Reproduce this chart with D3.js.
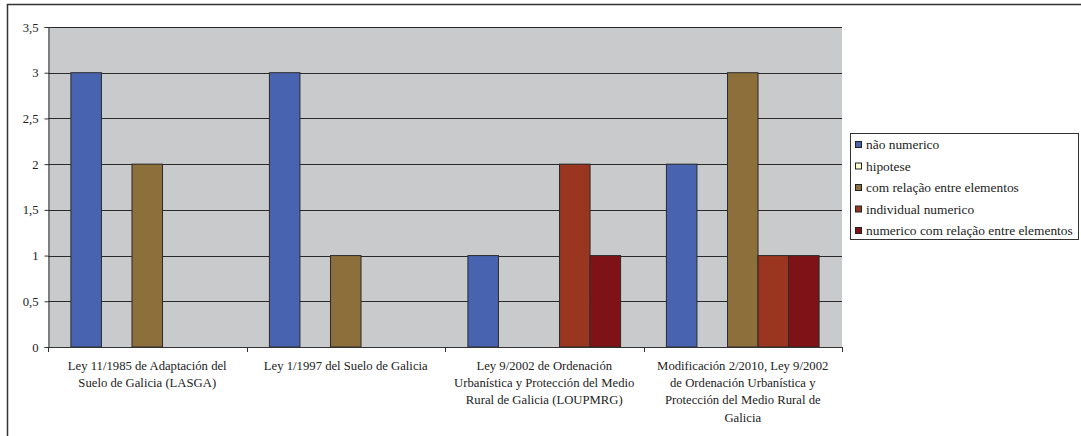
<!DOCTYPE html>
<html>
<head>
<meta charset="utf-8">
<script src="https://cdn.jsdelivr.net/npm/d3@7"></script>
<style>
  html, body { margin: 0; padding: 0; background: #fff; }
</style>
</head>
<body>
<svg id="chart" width="1081" height="436" font-family="Liberation Serif"></svg>
<script>
// Categories (laws), series names and values
const categories = [
  ["Ley 11/1985 de Adaptación del", "Suelo de Galicia (LASGA)"],
  ["Ley 1/1997 del Suelo de Galicia"],
  ["Ley 9/2002 de Ordenación", "Urbanística y Protección del Medio", "Rural de Galicia (LOUPMRG)"],
  ["Modificación 2/2010, Ley 9/2002", "de Ordenación Urbanística y", "Protección del Medio Rural de", "Galicia"]
];
const seriesNames = [
  "não numerico",
  "hipotese",
  "com relação entre elementos",
  "individual numerico",
  "numerico com relação entre elementos"
];
const naoNumerico = [3, 3, 1, 2];
const hipotese = [0, 0, 0, 0];
const comRelacao = [2, 1, 0, 3];
const individualNumerico = [0, 0, 2, 1];
const numericoComRelacao = [0, 0, 1, 1];
const seriesValues = [naoNumerico, hipotese, comRelacao, individualNumerico, numericoComRelacao];
const seriesColors = ["#4864b0", "#ffffcc", "#8c6f3a", "#9a3520", "#7e1216"];
const yTicks = [0, 0.5, 1, 1.5, 2, 2.5, 3, 3.5];

const FONT = "Liberation Serif";
const FS = 12.7;
const LEGEND_FS = 13.4;

const svg = d3.select("#chart");

// outer frame
svg.append("rect").attr("x", 7.5).attr("y", 4.5).attr("width", 1090).attr("height", 450)
  .attr("fill", "none").attr("stroke", "#333").attr("stroke-width", 1.5);

const plot = { left: 48, right: 842, top: 27, bottom: 347 };

const x0 = d3.scaleBand().domain(d3.range(categories.length))
  .range([plot.left, plot.right]).paddingInner(0).paddingOuter(0);
const groupW = x0.bandwidth();
// bars fill the group with a 150% gap between clusters
const barW = groupW / (seriesNames.length + 1.5);
const y = d3.scaleLinear().domain([0, 3.5]).range([plot.bottom, plot.top]);

// plot background
svg.append("rect").attr("x", plot.left).attr("y", plot.top)
  .attr("width", plot.right - plot.left).attr("height", plot.bottom - plot.top)
  .attr("fill", "#c9cacc");

// gridlines
svg.append("g").selectAll("line").data(yTicks.filter(d => d > 0)).join("line")
  .attr("x1", plot.left).attr("x2", plot.right)
  .attr("y1", d => Math.round(y(d)) + 0.5).attr("y2", d => Math.round(y(d)) + 0.5)
  .attr("stroke", "#2a2a2a").attr("stroke-width", 1);

// bars
const bars = [];
categories.forEach((c, ci) => {
  seriesValues.forEach((vals, si) => {
    if (vals[ci] > 0) bars.push({ ci, si, v: vals[ci] });
  });
});
svg.append("g").selectAll("rect").data(bars).join("rect")
  .attr("x", d => x0(d.ci) + barW * 0.75 + d.si * barW)
  .attr("y", d => y(d.v))
  .attr("width", barW)
  .attr("height", d => y(0) - y(d.v))
  .attr("fill", d => seriesColors[d.si])
  .attr("stroke", "#2b2b2b").attr("stroke-width", 1);

// y axis
const yAxis = d3.axisLeft(y).tickValues(yTicks).tickSize(4).tickPadding(6)
  .tickFormat(d => String(d).replace(".", ","));
const gy = svg.append("g").attr("transform", `translate(${plot.left + 0.5},0)`).call(yAxis)
  .attr("font-family", FONT).attr("font-size", FS);
gy.selectAll("path, line").attr("stroke", "#333");
gy.selectAll("text").attr("fill", "#222");

// x axis line + ticks at category boundaries
svg.append("line").attr("x1", plot.left).attr("x2", plot.right)
  .attr("y1", plot.bottom + 0.5).attr("y2", plot.bottom + 0.5).attr("stroke", "#333");
const bounds = d3.range(categories.length + 1).map(i => plot.left + i * groupW);
svg.append("g").selectAll("line").data(bounds).join("line")
  .attr("x1", d => Math.round(d) + 0.5).attr("x2", d => Math.round(d) + 0.5)
  .attr("y1", plot.bottom).attr("y2", plot.bottom + 5).attr("stroke", "#333");

// category labels
const cl = svg.append("g").attr("font-family", FONT).attr("font-size", FS)
  .selectAll("text").data(categories).join("text")
  .attr("text-anchor", "middle").attr("fill", "#222");
cl.each(function (lines, i) {
  const t = d3.select(this);
  lines.forEach((ln, li) => {
    t.append("tspan").attr("x", x0(i) + groupW / 2).attr("y", 369.5 + li * 17.4).text(ln);
  });
});

// legend
const lg = svg.append("g").attr("font-family", FONT).attr("font-size", LEGEND_FS);
lg.append("rect").attr("x", 850.5).attr("y", 133.5).attr("width", 228).attr("height", 106)
  .attr("fill", "#fff").attr("stroke", "#333");
const items = lg.selectAll("g").data(seriesNames).join("g")
  .attr("transform", (d, i) => `translate(855, ${145 + i * 21.5})`);
items.append("rect").attr("x", 0.5).attr("y", -3.5).attr("width", 6).attr("height", 6)
  .attr("fill", (d, i) => seriesColors[i]).attr("stroke", "#222");
items.append("text").attr("x", 11).attr("y", 4.3).attr("fill", "#222").text(d => d);
</script>
</body>
</html>
